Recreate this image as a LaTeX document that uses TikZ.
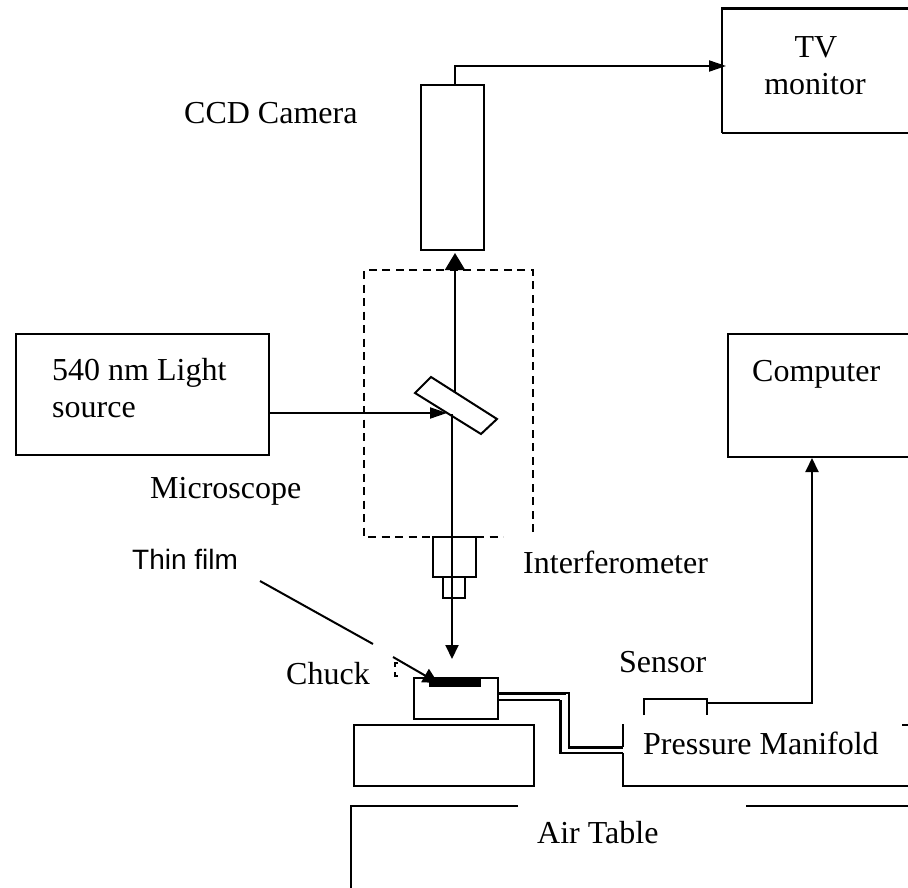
\documentclass[tikz,border=0pt]{standalone}
\usepackage{fontspec}
\setmainfont{Liberation Serif}
\newfontfamily\arialfont{Liberation Sans}
\usetikzlibrary{arrows.meta}
\tikzset{
  x=1pt,y=-1pt,
  line/.style={draw=black,line width=2pt,line join=miter},
  thin line/.style={draw=black,line width=1.6pt},
  thick line/.style={draw=black,line width=3pt},
  label/.style={inner sep=0pt,anchor=base west,font=\fontsize{32}{38}\selectfont},
  box/.style={draw=black,line width=2pt,inner sep=0pt,outer sep=0pt},
  big tip/.style={-{Triangle[length=17pt,width=20pt]}},
  small tip/.style={-{Triangle[length=14pt,width=13pt]}},
  flat tip/.style={-{Triangle[length=17pt,width=11pt]}}
}
\begin{document}
\begin{tikzpicture}
\useasboundingbox (0,0) rectangle (908,888);
% camera
\node[box,minimum width=63pt,minimum height=165pt] (camera) at (452.5,167.5) {};
\coordinate (camOut) at ([xshift=2.5pt]camera.north);
\coordinate (camIn) at (455,253);
% TV
\coordinate (tvIn) at (726,66);
\draw[line] (722,133) -- (908,133);
\draw[line] (722,9) -- (722,133);
\draw[thick line] (721,9) -- (908,9);
\draw[line,flat tip] (camOut) |- (tvIn);
\node[label,anchor=base] (tv1) at (816,58) {TV};
\node[label,anchor=base] (tv2) at (815,95) {monitor};
\node[label] (cam) at (184,124) {CCD Camera};
% interferometer box
\draw[draw=black,line width=2pt,dash pattern=on 8pt off 5.5pt] (533,532) -- (533,270) -- (364,270) -- (364,537) -- (503,537);
% light source
\node[box,minimum width=253pt,minimum height=121pt] (light) at (142,394.5) {};
\coordinate (lsOut) at (268.5,413);
\coordinate (bsHit) at (447,413);
\node[label] (ls1) at (52,380) {540 nm Light};
\node[label] (ls2) at (52,417) {source};
\draw[line,flat tip] (lsOut) -- (bsHit);
% beam splitter
\draw[line] (431,377) -- (497,419) -- (481,434) -- (415,393) -- cycle;
\coordinate (bsTop) at (455,393);
\coordinate (bsBot) at (452,414);
\draw[line,big tip] (bsTop) -- (camIn);
\coordinate (chuckTop) at (452,659);
\draw[line,small tip] (bsBot) -- (chuckTop);
\node[label] (mic) at (150,498) {Microscope};
\node[label] (itf) at (523,573) {Interferometer};
% objective
\node[box,minimum width=43pt,minimum height=40pt] (obj) at (454.5,557) {};
\node[box,minimum width=22pt,minimum height=21pt] (nose) at (454,587.5) {};
% thin film
\node[label,font=\arialfont\fontsize{28}{34}\selectfont] (tf) at (132,569) {Thin film};
\coordinate (tfA) at (260,581);
\coordinate (tfB) at (373,644);
\coordinate (tfC) at (393,657);
\coordinate (tfD) at (438,683);
\draw[line] (tfA) -- (tfB);
\draw[line,-{Triangle[length=15pt,width=15pt]}] (tfC) -- (tfD);
% chuck
\node[label] (chk) at (286,684) {Chuck};
\node[box,minimum width=84pt,minimum height=41pt] (chuck) at (456,698.5) {};
\fill[black] (429,678) rectangle (481,687);
% marks by the chuck
\draw[black,line width=1.6pt] (398,663) -- (395,663) -- (395,667);
\draw[black,line width=1.6pt] (395,672) -- (395,676) -- (398,676);
% stage
\node[box,minimum width=180pt,minimum height=61pt] (stage) at (444,755.5) {};
% tubes
\draw[thick line] (498,693) -- (566,693);
\draw[thin line] (566,693) -- (569,693) -- (569,747);
\draw[thick line] (568,747.5) -- (623,747.5);
\draw[thin line] (498,700) -- (560,700);
\draw[thick line] (560,700) -- (560,753);
\draw[thin line] (559,753) -- (623,753);
% manifold
\draw[line] (623,724) -- (623,747);
\draw[line] (623,753) -- (623,786) -- (908,786);
\draw[line] (902,725) -- (908,725);
\node[label] (pm) at (643,754) {Pressure Manifold};
% sensor
\draw[line] (644,715) |- (707,699) -- (707,715);
\node[label] (sen) at (619,672) {Sensor};
\coordinate (senOut) at (707,703);
% computer
\coordinate (cpIn) at (812,458);
\draw[line] (908,334) -- (728,334) -- (728,457) -- (908,457);
\node[label] (cp) at (752,381) {Computer};
\draw[line,small tip] (senOut) -| (cpIn);
% air table
\draw[line] (518,806) -- (351,806) -- (351,888);
\draw[line] (746,806) -- (908,806);
\node[label] (air) at (537,843) {Air Table};
\end{tikzpicture}
\end{document}
